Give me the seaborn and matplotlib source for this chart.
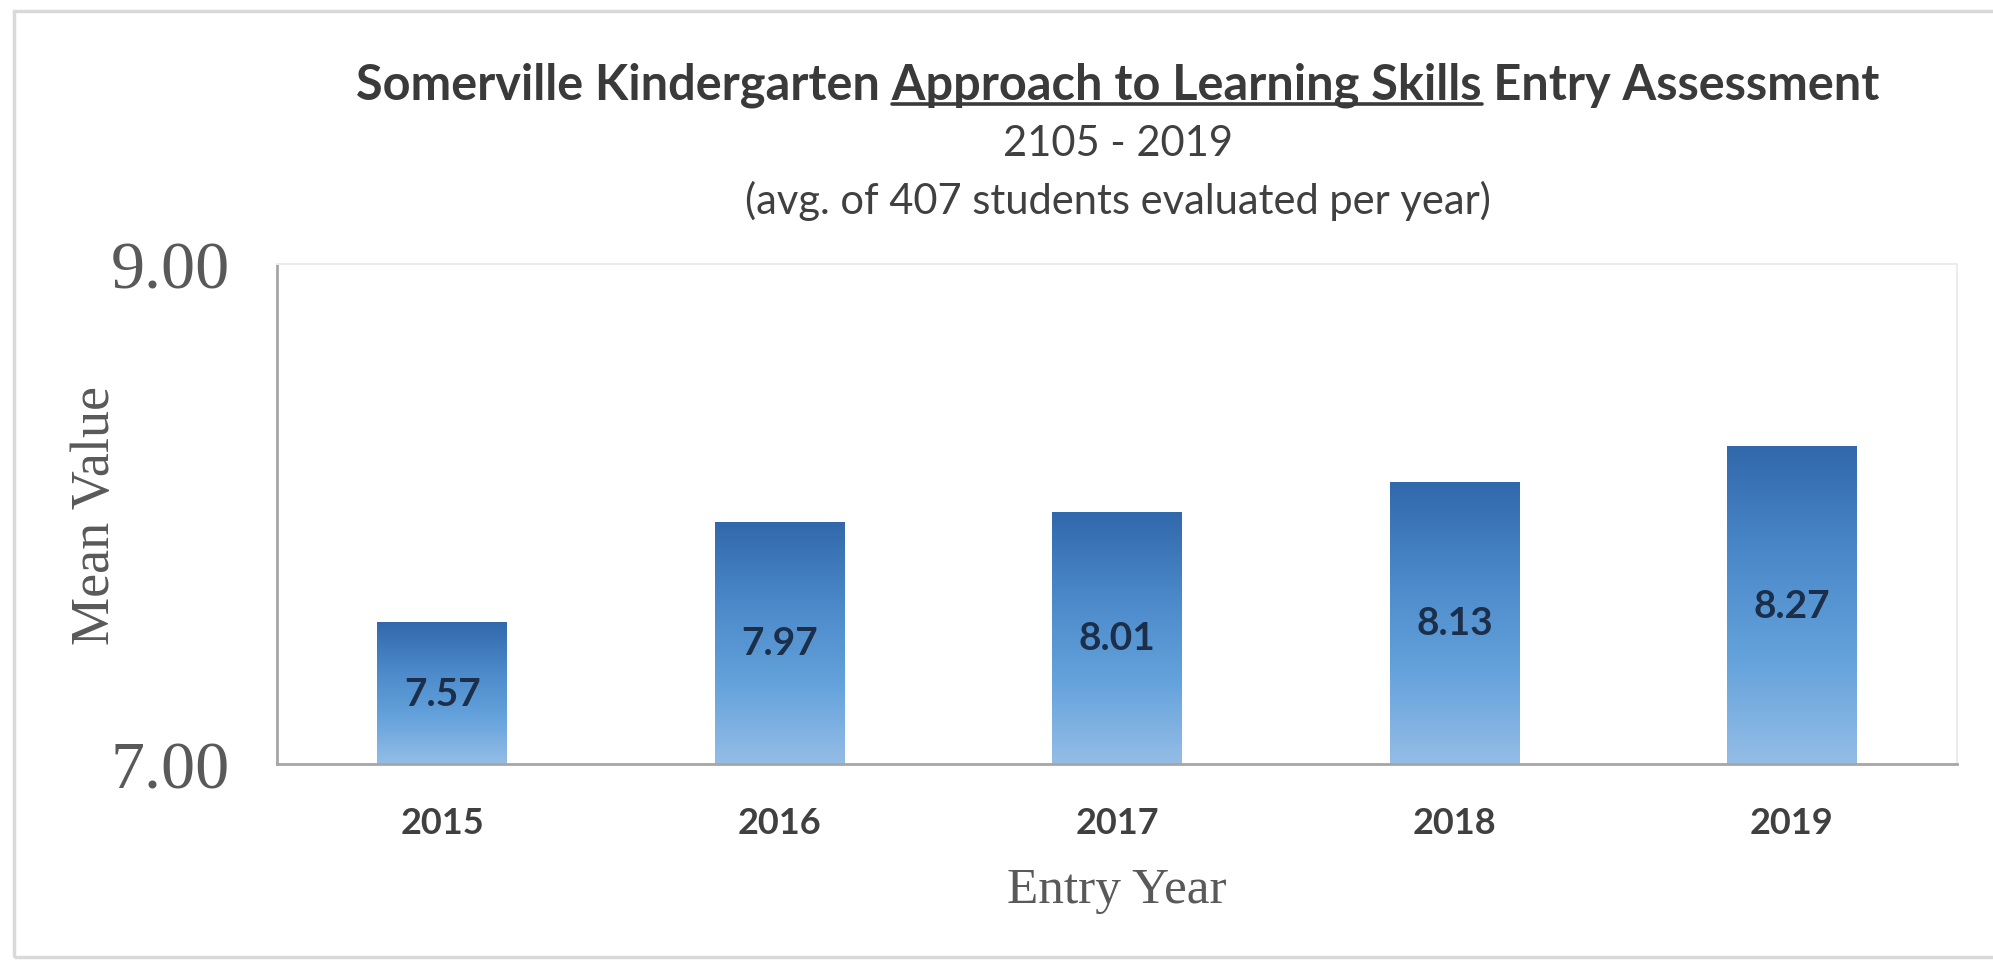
import numpy as np
import pandas as pd
import matplotlib
matplotlib.use("Agg")
import matplotlib.pyplot as plt
import seaborn as sns
from matplotlib.colors import LinearSegmentedColormap
from matplotlib.lines import Line2D
from matplotlib.patches import Rectangle

years = ["2015", "2016", "2017", "2018", "2019"]
mean_values = [7.57, 7.97, 8.01, 8.13, 8.27]
value_labels = ["7.57", "7.97", "8.01", "8.13", "8.27"]
y_ticks = [7.00, 9.00]
y_tick_labels = ["7.00", "9.00"]

title_parts = ["Somerville Kindergarten ", "Approach to Learning Skills", " Entry Assessment"]
subtitle_1 = "2105 - 2019"
subtitle_2 = "(avg. of 407 students evaluated per year)"

sns.set_theme(style="white")
plt.rcParams['font.family'] = ['Lato', 'DejaVu Sans']

df = pd.DataFrame({"year": years, "value": mean_values})

W, H = 1993, 970
fig = plt.figure(figsize=(W / 100, H / 100), dpi=100)
ax = fig.add_axes([0.139, 0.211, 0.843, 0.516])

sns.barplot(data=df, x="year", y="value", ax=ax, color="#4a8bd0", width=0.385,
            saturation=1, edgecolor="none")

YMIN, YMAX = 7.0, 9.0
ax.set_ylim(YMIN, YMAX)
ax.set_xlim(-0.49, 4.49)
ax.set_yticks(y_ticks)
ax.set_yticklabels(y_tick_labels, fontfamily="Liberation Serif", fontsize=49, color="#595959")
ax.tick_params(axis="y", length=0, pad=34)
ax.tick_params(axis="x", length=0, pad=30)
for lab in ax.get_xticklabels():
    lab.set_fontweight("bold")
    lab.set_fontsize(26)
    lab.set_color("#404040")

ax.set_ylabel("Mean Value", fontfamily="Liberation Serif", fontsize=39, color="#595959")
ax.yaxis.set_label_coords(-0.093, 0.5)
ax.set_xlabel("Entry Year", fontfamily="Liberation Serif", fontsize=37, color="#595959")
ax.xaxis.set_label_coords(0.5, -0.205)

for side in ["left", "bottom"]:
    ax.spines[side].set_color("#a6a6a6")
    ax.spines[side].set_linewidth(2)
for side in ["top", "right"]:
    ax.spines[side].set_color("#ececec")
    ax.spines[side].set_linewidth(1.5)

# gradient fill clipped to each bar
cmap = LinearSegmentedColormap.from_list("barg", ["#94bde6", "#64a2dc", "#4a88c9", "#3168ab"])
grad = np.linspace(0, 1, 256).reshape(-1, 1)
for patch in ax.patches:
    x0, y0 = patch.get_x(), patch.get_y()
    w, h = patch.get_width(), patch.get_height()
    im = ax.imshow(grad, cmap=cmap, origin="lower", aspect="auto",
                   extent=[x0, x0 + w, max(y0, YMIN), y0 + h], zorder=patch.get_zorder() + 0.1)
    im.set_clip_path(patch)
ax.set_xlim(-0.49, 4.49)
ax.set_ylim(YMIN, YMAX)

# value labels centred within the visible part of each bar
for patch, lab in zip(ax.patches, value_labels):
    top = patch.get_y() + patch.get_height()
    ax.text(patch.get_x() + patch.get_width() / 2, (YMIN + top) / 2, lab,
            ha="center", va="center", fontsize=28, fontweight="bold", color="#1c2f4a", zorder=5)

# Title with underlined middle segment
fig.canvas.draw()
renderer = fig.canvas.get_renderer()
fs_title = 35
title_base = 1 - 99 / H


def width_of(s):
    t = fig.text(0, -1, s, fontsize=fs_title, fontweight="bold")
    wv = t.get_window_extent(renderer=renderer).width
    t.remove()
    return wv


total_w = width_of("".join(title_parts))
pre_w = width_of(title_parts[0].rstrip() + " ")
pm_w = width_of(title_parts[0] + title_parts[1])
center_px = 1118
start_px = center_px - total_w / 2
fig.text(start_px / W, title_base, "".join(title_parts), fontsize=fs_title, fontweight="bold",
         color="#3a3a3a", ha="left", va="baseline")
under_y = 1 - 105 / H
fig.add_artist(Line2D([(start_px + pre_w) / W, (start_px + pm_w) / W],
                      [under_y, under_y], color="#3a3a3a", lw=2.6, transform=fig.transFigure))

fig.text(center_px / W, 1 - 144 / H, subtitle_1, fontsize=30, color="#404040",
         ha="center", va="center")
fig.text(center_px / W, 1 - 201 / H, subtitle_2, fontsize=30, color="#404040",
         ha="center", va="center")

# outer chart border
fig.add_artist(Rectangle((14 / W, 12 / H), 1.0, 946 / H, transform=fig.transFigure,
                         fill=False, edgecolor="#d9d9d9", lw=2.5))

fig.savefig("out.png", dpi=100, facecolor="white")
